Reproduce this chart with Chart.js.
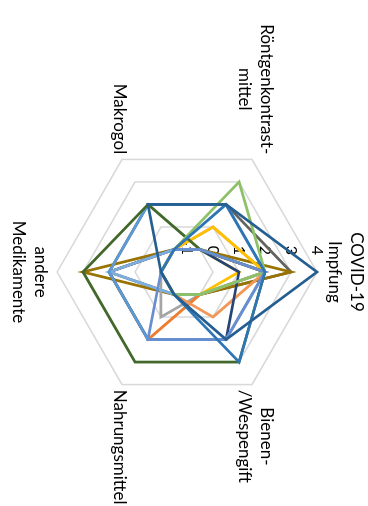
<!DOCTYPE html>
<html lang="de">
<head>
<meta charset="utf-8">
<title>Radar</title>
<script src="https://cdn.jsdelivr.net/npm/chart.js@4.4.1/dist/chart.umd.min.js"></script>
<style>
  html, body { margin: 0; padding: 0; background: #fff; overflow: hidden; }
  /* the chart is laid out landscape and turned a quarter clockwise */
  #frame {
    position: absolute; left: 0; top: 0;
    width: 506px; height: 368px;
    transform-origin: 0 0;
    transform: translate(368px, 0) rotate(90deg);
  }
</style>
</head>
<body>
<div id="frame"><canvas id="radar" width="506" height="368"></canvas></div>
<script>
const categories = [
  ['COVID-19', 'Impfung'],
  ['Bienen-', '/Wespengift'],
  ['Nahrungsmittel'],
  ['andere', 'Medikamente'],
  ['Makrogol'],
  ['Röntgenkontrast-', 'mittel'],
];
const tickValues = [-1, 0, 1, 2, 3, 4];

// values per category, same order as above
const reihe01 = [3, 0, 0, 2, 2, 2];
const reihe02 = [3, 0, 0, 3, 0, 0];
const reihe03 = [2, 0, 1, 0, 0, 0];
const reihe04 = [2, 0, 2, 2, 0, 0];
const reihe05 = [2, 1, 0, 0, 0, 1];
const reihe06 = [1, 0, 0, 0, 0, 0];
const reihe07 = [2, 0, 0, 0, 0, 1];
const reihe08 = [1, 2, 2, 2, 0, 0];
const reihe09 = [2, 0, 0, 2, 0, 0];
const reihe10 = [2, 2, 2, 2, 2, 2];
const reihe11 = [2, 3, 3, 3, 2, 0];
const reihe12 = [2, 0, 0, 0, 0, 3];
const reihe13 = [2, 2, 2, 0, 0, 0];
const reihe14 = [2, 3, 0, 0, 0, 2];
const reihe15 = [4, 2, 0, 0, 2, 2];

const rows = [reihe01, reihe02, reihe03, reihe04, reihe05, reihe06, reihe07, reihe08,
  reihe09, reihe10, reihe11, reihe12, reihe13, reihe14, reihe15];

// later rows are painted over earlier ones
const colors = [
  '#636363', '#997300', '#A5A5A5', '#ED7D31', '#F1975A', '#FFC000', '#FFC000', '#264478',
  '#7CAFDD', '#5B9BD5', '#43682B', '#8CC168', '#698ED0', '#2E75B6', '#255E91',
];

const FONT = 'Lato, "Open Sans", sans-serif';

const axisText = {
  id: 'axisText',
  beforeDatasetsDraw(chart) {
    const scale = chart.scales.r;
    const ctx = chart.ctx;
    ctx.save();
    ctx.fillStyle = '#000';

    // value labels beside the first axis
    ctx.font = '16px ' + FONT;
    ctx.textAlign = 'right';
    ctx.textBaseline = 'middle';
    tickValues.forEach((v) => {
      const d = scale.getDistanceFromCenterForValue(v);
      ctx.fillText(String(v), scale.xCenter - 17, scale.yCenter - d);
    });

    // category names around the web
    const lh = 22;
    ctx.font = '17px ' + FONT;
    ctx.textAlign = 'center';
    categories.forEach((lines, i) => {
      const deg = (i * 360) / categories.length;
      const p = scale.getPointPosition(i, scale.drawingArea + 6);
      const w = Math.max(...lines.map((t) => ctx.measureText(t).width));
      const h = lines.length * lh;
      let cx = p.x;
      if (deg > 0 && deg < 180) cx = p.x + w / 2;
      if (deg > 180) cx = p.x - w / 2;
      let top = p.y - h / 2;
      if (deg === 0) top = p.y - h;
      if (deg === 180) top = p.y;
      lines.forEach((t, k) => ctx.fillText(t, cx, top + lh / 2 + k * lh));
    });
    ctx.restore();
  },
};

new Chart(document.getElementById('radar'), {
  type: 'radar',
  data: {
    labels: categories,
    datasets: rows.map((row, i) => ({
      label: 'Reihe ' + (i + 1),
      data: row,
      borderColor: colors[i],
      borderWidth: 2.75,
      borderJoinStyle: 'miter',
      fill: false,
      pointRadius: 0,
      pointHoverRadius: 0,
      order: rows.length - i,
    })),
  },
  options: {
    responsive: false,
    animation: false,
    devicePixelRatio: 1,
    layout: { padding: { left: 142, right: 104, top: 51, bottom: 57 } },
    plugins: { legend: { display: false }, tooltip: { enabled: false } },
    elements: { line: { tension: 0 } },
    scales: {
      r: {
        min: -1,
        max: 4,
        ticks: { display: false, stepSize: 1 },
        grid: { color: '#D9D9D9', lineWidth: 1.5 },
        angleLines: { display: false },
        pointLabels: { display: false },
      },
    },
  },
  plugins: [axisText],
});
</script>
</body>
</html>
